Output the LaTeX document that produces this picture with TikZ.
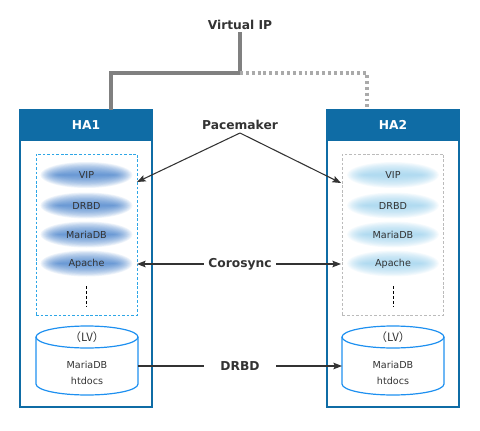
\documentclass[tikz,border=0pt]{standalone}
\usepackage{fontspec}
\setmainfont{DejaVu Sans}
\newfontfamily\cjk{Noto Sans CJK JP}
\usetikzlibrary{arrows.meta,shapes.geometric}
\definecolor{hdr}{HTML}{0F6CA5}
\definecolor{txt}{HTML}{333333}
\definecolor{vipgray}{HTML}{808080}
\definecolor{dotgray}{HTML}{AAAAAA}
\definecolor{inblue}{HTML}{2EA6E6}
\definecolor{ingray}{HTML}{BBBBBB}
\definecolor{cyl}{HTML}{1E90F0}
\definecolor{blobA}{HTML}{3575C5}
\definecolor{blobB}{HTML}{94CDEB}
\begin{document}
\begin{tikzpicture}[x=0.75pt,y=-0.75pt,
  lbl/.style={font=\fontsize{9.2}{11}\selectfont\bfseries, text=txt, inner sep=1.5pt},
  hdrbox/.style={fill=hdr, draw=hdr, line width=1pt, font=\fontsize{9.2}{11}\selectfont\bfseries, text=white, minimum width=99pt, minimum height=22.5pt, inner sep=0pt},
  hostbox/.style={draw=hdr, line width=1pt},
  small/.style={font=\fontsize{7.2}{9}\selectfont, text=txt, inner sep=0pt},
  res/.style={small, ellipse, minimum width=66pt, minimum height=19.5pt},
  inA/.style={draw=inblue, dash pattern=on 2pt off 1.4pt, line width=0.6pt, minimum width=75.75pt, minimum height=120.75pt, inner sep=0pt},
  inB/.style={draw=ingray, dash pattern=on 2pt off 1.4pt, line width=0.6pt, minimum width=75.75pt, minimum height=120.75pt, inner sep=0pt},
  vipline/.style={draw=vipgray, line width=2.3pt},
  dotline/.style={draw=dotgray, line width=2.3pt, dash pattern=on 2.2pt off 2.2pt},
  arr/.style={draw=txt, line width=0.8pt, -{Stealth[length=6.5pt,width=5pt,inset=1.2pt]}},
  plain/.style={draw=txt, line width=0.8pt},
  cylline/.style={draw=cyl, line width=0.9pt},
  vdash/.style={draw=black, line width=0.7pt, dash pattern=on 2.2pt off 1.5pt},
  mid/.style={lbl, minimum width=54pt, inner sep=0pt},
  glow/.style={fill=#1, fill opacity=0.08}
]
\useasboundingbox (0,0) rectangle (480,430);

% Virtual IP
\node[lbl] (vip) at (240,25) {Virtual IP};
\coordinate (j) at (240,73);
\coordinate (h1t) at (111,110);
\coordinate (h2t) at (367,110);

% host boxes
\draw[hostbox] (20,110) rectangle (152,407);
\draw[hostbox] (327,110) rectangle (459,407);
\node[hdrbox] (ha1) at (86,125) {HA1};
\node[hdrbox] (ha2) at (393,125) {HA2};

\draw[vipline] (vip.south) -- (j) -| (h1t);
\draw[dotline] (j) -| (h2t);

% inner boxes
\node[inA] (i1) at (86.5,234.5) {};
\node[inB] (i2) at (393,234.5) {};

% soft glow behind resources
\foreach \px/\py/\c in {86.5/175/blobA, 86.5/205.5/blobA, 86.5/234.5/blobA, 86.5/263.5/blobA,
                        393/175/blobB, 393/205.5/blobB, 393/234.5/blobB, 393/263.5/blobB}{
  \foreach \k in {0,...,15}{
    \fill[glow=\c] (\px,\py) ellipse [x radius={46-1.2*\k}, y radius={13-0.8*\k}];
  }
}

% resources
\node[res] (v1) at (86.5,175) {VIP};
\node[res] (d1) at (86.5,205.5) {DRBD};
\node[res] (m1) at (86.5,234.5) {MariaDB};
\node[res] (a1) at (86.5,263.5) {Apache};
\node[res] (v2) at (393,175) {VIP};
\node[res] (d2) at (393,205.5) {DRBD};
\node[res] (m2) at (393,234.5) {MariaDB};
\node[res] (a2) at (393,263.5) {Apache};

\coordinate (e1t) at (86.5,286);
\coordinate (e1b) at (86.5,307);
\coordinate (e2t) at (393,286);
\coordinate (e2b) at (393,307);
\draw[vdash] (e1t) -- (e1b);
\draw[vdash] (e2t) -- (e2b);

% Pacemaker
\node[lbl] (pm) at (240,125) {Pacemaker};
\coordinate (pmo) at (240,133);
\coordinate (pa1) at (137,182);
\coordinate (pa2) at (341,183);
\draw[arr] (pmo) -- (pa1);
\draw[arr] (pmo) -- (pa2);

% Corosync
\node[mid] (cs) at (240,264) {Corosync};
\coordinate (ca1) at (137,264);
\coordinate (ca2) at (341,264);
\draw[arr] (cs.west) -- (ca1);
\draw[arr] (cs.east) -- (ca2);

% cylinders
\draw[cylline] (36,337) -- (36,384) arc[start angle=180, end angle=0, x radius=51, y radius=11] -- (138,337);
\draw[cylline] (87,337) ellipse [x radius=51, y radius=11];
\draw[cylline] (342,337) -- (342,384) arc[start angle=180, end angle=0, x radius=51, y radius=11] -- (444,337);
\draw[cylline] (393,337) ellipse [x radius=51, y radius=11];
\node[small, font=\fontsize{8.6}{10}\selectfont] (lv1) at (87,337) {\cjk （LV）};
\node[small] (mdb1) at (87,365) {MariaDB};
\node[small] (ht1) at (87,381) {htdocs};
\node[small, font=\fontsize{8.6}{10}\selectfont] (lv2) at (393,337) {\cjk （LV）};
\node[small] (mdb2) at (393,365) {MariaDB};
\node[small] (ht2) at (393,381) {htdocs};
\coordinate (c1e) at (138,366);
\coordinate (c2w) at (342,366);

% DRBD
\node[mid] (dr) at (240,366) {DRBD};
\draw[plain] (c1e) -- (dr.west);
\draw[arr] (dr.east) -- (c2w);
\end{tikzpicture}
\end{document}
